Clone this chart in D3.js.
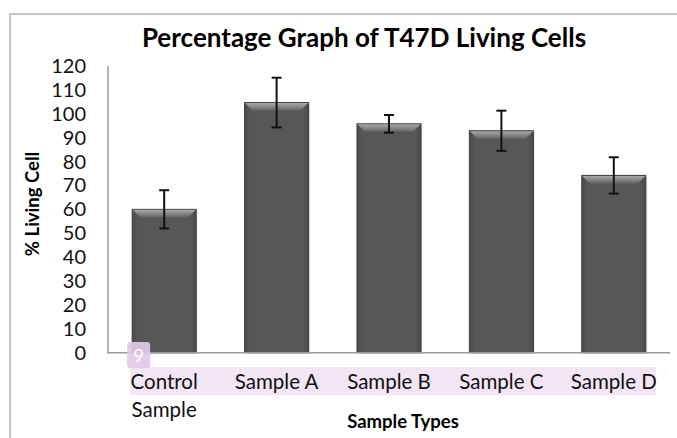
<!DOCTYPE html>
<html>
<head>
<meta charset="utf-8">
<script src="https://cdn.jsdelivr.net/npm/d3@7"></script>
<style>
  html, body { margin: 0; padding: 0; background: #fff; }
  svg { display: block; }
  text { font-family: Lato, "Open Sans", sans-serif; }
</style>
</head>
<body>
<svg id="chart" width="677" height="438"></svg>
<script>
// ---- data ----
const categories = ["Control Sample", "Sample A", "Sample B", "Sample C", "Sample D"];
const values = [60, 104.7, 95.8, 92.9, 74.2];
const errors = [8, 10.4, 3.7, 8.4, 7.6];
const yTicks = [0, 10, 20, 30, 40, 50, 60, 70, 80, 90, 100, 110, 120];
const title = "Percentage Graph of T47D Living Cells";
const yTitle = "% Living Cell";
const xTitle = "Sample Types";

const W = 677, H = 438;
const svg = d3.select("#chart");

// frame border (top and left)
svg.append("line").attr("x1", 10).attr("x2", W).attr("y1", 14).attr("y2", 14)
  .attr("stroke", "#c4c4c4").attr("stroke-width", 2);
svg.append("line").attr("x1", 10).attr("x2", 10).attr("y1", 13).attr("y2", H)
  .attr("stroke", "#c4c4c4").attr("stroke-width", 2);

const x = d3.scaleBand().domain(categories).range([108, 670])
  .paddingInner(0.43).paddingOuter(0.215);
const y = d3.scaleLinear().domain([0, 120]).range([352.7, 66]);

// defs: gradients
const defs = svg.append("defs");
const bodyGrad = defs.append("linearGradient").attr("id", "bodyGrad")
  .attr("x1", 0).attr("x2", 1).attr("y1", 0).attr("y2", 0);
bodyGrad.append("stop").attr("offset", "0%").attr("stop-color", "#4a4a4a");
bodyGrad.append("stop").attr("offset", "8%").attr("stop-color", "#575757");
bodyGrad.append("stop").attr("offset", "92%").attr("stop-color", "#575757");
bodyGrad.append("stop").attr("offset", "100%").attr("stop-color", "#474747");
const bevGrad = defs.append("linearGradient").attr("id", "bevGrad")
  .attr("x1", 0).attr("x2", 0).attr("y1", 0).attr("y2", 1);
bevGrad.append("stop").attr("offset", "0%").attr("stop-color", "#a8a8a8");
bevGrad.append("stop").attr("offset", "100%").attr("stop-color", "#646464");

// x highlight band (annotation artefact in the reference)
const hlX0 = x(categories[0]) - 2;
const hlX1 = x(categories[categories.length - 1]) + x.bandwidth() + 10;
svg.append("rect").attr("x", hlX0).attr("y", 367).attr("width", hlX1 - hlX0).attr("height", 28)
  .attr("fill", "#f2e6f4");

// bars
const g = svg.append("g");
categories.forEach((c, i) => {
  const x0 = x(c), bw = x.bandwidth(), yt = y(values[i]), yb = y(0);
  g.append("rect").attr("x", x0 + 1.5).attr("y", yt + 1.5).attr("width", bw).attr("height", yb - yt)
    .attr("fill", "#bdbdbd").attr("opacity", 0.35);
  g.append("rect").attr("x", x0).attr("y", yt).attr("width", bw).attr("height", yb - yt)
    .attr("fill", "url(#bodyGrad)").attr("stroke", "#3f3f3f").attr("stroke-width", 1);
  const bev = 8;
  g.append("path")
    .attr("d", `M${x0 + 0.5},${yt + 0.5} L${x0 + bw - 0.5},${yt + 0.5} L${x0 + bw - bev},${yt + bev} L${x0 + bev},${yt + bev} Z`)
    .attr("fill", "url(#bevGrad)");
});

// axes lines
svg.append("line").attr("x1", 108).attr("x2", 108).attr("y1", y(120)).attr("y2", y(0))
  .attr("stroke", "#9a9a9a").attr("stroke-width", 1.5);
svg.append("line").attr("x1", 107).attr("x2", 670).attr("y1", y(0)).attr("y2", y(0))
  .attr("stroke", "#9a9a9a").attr("stroke-width", 1.5);

// y ticks labels
svg.append("g").selectAll("text").data(yTicks).join("text")
  .attr("x", 86).attr("y", d => y(d)).attr("dy", "0.35em")
  .attr("text-anchor", "end").attr("font-size", 20).attr("fill", "#111")
  .text(d => d);

// error bars
const eg = svg.append("g").attr("stroke", "#111").attr("stroke-width", 2);
categories.forEach((c, i) => {
  const cx = x(c) + x.bandwidth() / 2;
  const hi = y(values[i] + errors[i]), lo = y(values[i] - errors[i]);
  eg.append("line").attr("x1", cx).attr("x2", cx).attr("y1", hi).attr("y2", lo);
  eg.append("line").attr("x1", cx - 5).attr("x2", cx + 5).attr("y1", hi).attr("y2", hi);
  eg.append("line").attr("x1", cx - 5).attr("x2", cx + 5).attr("y1", lo).attr("y2", lo);
});

// "9" marker (annotation artefact, drawn on top)
svg.append("rect").attr("x", hlX0 - 3).attr("y", 342).attr("width", 23).attr("height", 26)
  .attr("rx", 3).attr("fill", "#e2c8e8").attr("opacity", 0.92);
svg.append("text").attr("x", hlX0 + 8.5).attr("y", 362).attr("text-anchor", "middle")
  .attr("font-size", 18).attr("fill", "#fff").text("9");

// category labels (wrapped)
categories.forEach(c => {
  const cx = x(c) + x.bandwidth() / 2;
  const lines = c === "Control Sample" ? ["Control", "Sample"] : [c];
  const t = svg.append("text").attr("x", cx).attr("y", 389).attr("text-anchor", "middle")
    .attr("font-size", 20.5).attr("fill", "#111");
  lines.forEach((l, k) => {
    t.append("tspan").attr("x", cx).attr("dy", k === 0 ? 0 : 27.5).text(l);
  });
});

// titles
svg.append("text").attr("x", 364).attr("y", 47).attr("text-anchor", "middle")
  .attr("font-size", 26).attr("font-weight", "bold").attr("fill", "#000").text(title);
svg.append("text").attr("transform", "translate(39,204) rotate(-90)").attr("text-anchor", "middle")
  .attr("font-size", 18.5).attr("font-weight", "bold").attr("fill", "#000").text(yTitle);
svg.append("text").attr("x", 403).attr("y", 428).attr("text-anchor", "middle")
  .attr("font-size", 18.5).attr("font-weight", "bold").attr("fill", "#000").text(xTitle);
</script>
</body>
</html>
